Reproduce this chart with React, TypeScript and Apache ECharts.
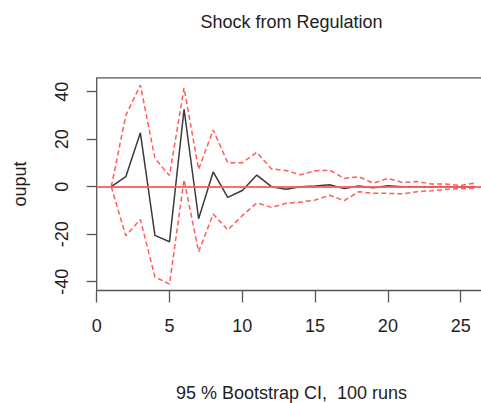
import React, { useEffect, useRef } from "react";
import * as echarts from "echarts";

// Impulse response horizon (steps after the shock)
const steps = [1, 2, 3, 4, 5, 6, 7, 8, 9, 10, 11, 12, 13, 14, 15, 16, 17, 18, 19, 20, 21, 22, 23, 24, 25, 26];

// Orthogonalised impulse response of output to a regulation shock
const irf = [0, 4.2, 22.7, -20.5, -23.2, 32.6, -13.5, 6.2, -4.5, -1.6, 4.9, 0, -1.1, 0, 0.3, 0.8, -0.8, 0.3, -0.4, 0.4, 0, 0, 0, 0, 0, 0];

// 95 % bootstrap confidence band
const upperCI = [0, 30, 42.8, 11.9, 4.7, 41.6, 7.3, 23.9, 10.1, 10.1, 14.5, 7.5, 6.8, 5.0, 6.7, 7.0, 3.5, 4.2, 1.5, 3.5, 1.8, 2.2, 1.1, 1.1, 0.5, 1.6];
const lowerCI = [0, -20.7, -13.8, -38, -41, 3.0, -27.4, -11.5, -18.2, -12.2, -6.8, -8.7, -7.0, -6.5, -5.6, -3.6, -5.9, -2.1, -2.8, -2.8, -3.0, -2.1, -1.7, -1.1, -0.8, -0.6];

const xTicks = [0, 5, 10, 15, 20, 25];
const yTicks = [-40, -20, 0, 20, 40];

const titleText = "Shock from Regulation";
const xTitle = "95 % Bootstrap CI,  100 runs";
const yTitle = "ouput";

const FONT = "'Liberation Sans', Arial, sans-serif";
const INK = "#1e1e1e";
const FRAME = "#555555";

export default function App() {
  const ref = useRef<HTMLDivElement>(null);

  useEffect(() => {
    if (!ref.current) return;
    const chart = echarts.init(ref.current, undefined, { renderer: "svg" });

    const pairs = (ys: number[]) => steps.map((s, i) => [s, ys[i]]);

    const plotLeft = 96.7;
    const plotTop = 77.8;
    const plotW = 393.1;
    const plotH = 212.7;

    chart.setOption({
      animation: false,
      backgroundColor: "#ffffff",
      grid: {
        left: plotLeft,
        top: plotTop,
        width: plotW,
        height: plotH,
        show: true,
        borderColor: FRAME,
        borderWidth: 1.3,
        backgroundColor: "transparent",
        containLabel: false,
        outerBoundsMode: "none",
      },
      xAxis: {
        type: "value",
        min: 0,
        max: 27,
        axisLine: { show: false, onZero: false },
        splitLine: { show: false },
        axisTick: {
          show: true,
          length: 12,
          customValues: xTicks,
          lineStyle: { color: FRAME, width: 1.3 },
        },
        axisLabel: {
          customValues: xTicks,
          margin: 26,
          fontFamily: FONT,
          fontSize: 18,
          color: INK,
        },
      },
      yAxis: {
        type: "value",
        min: -43.7,
        max: 45.85,
        axisLine: { show: false, onZero: false },
        splitLine: { show: false },
        axisTick: {
          show: true,
          length: 10,
          customValues: yTicks,
          lineStyle: { color: FRAME, width: 1.3 },
        },
        axisLabel: {
          customValues: yTicks,
          rotate: 90,
          margin: 26,
          fontFamily: FONT,
          fontSize: 18,
          color: INK,
        },
      },
      graphic: [
        {
          type: "text",
          x: 291.5,
          y: 22,
          style: {
            text: titleText,
            font: `18px ${FONT}`,
            fill: INK,
            align: "center",
            verticalAlign: "middle",
          },
        },
        {
          type: "text",
          x: 291.5,
          y: 392.5,
          style: {
            text: xTitle,
            font: `18px ${FONT}`,
            fill: INK,
            align: "center",
            verticalAlign: "middle",
          },
        },
        {
          type: "text",
          x: 20,
          y: 184,
          rotation: Math.PI / 2,
          style: {
            text: yTitle,
            font: `18px ${FONT}`,
            fill: INK,
            align: "center",
            verticalAlign: "middle",
          },
        },
      ],
      series: [
        {
          name: "upper",
          type: "line",
          data: pairs(upperCI),
          symbol: "none",
          z: 2,
          lineStyle: { color: "#ff4040", width: 1.5, type: [5, 3], opacity: 0.85 },
          markLine: {
            silent: true,
            symbol: "none",
            label: { show: false },
            lineStyle: { color: "#ff5a5a", width: 2, type: "solid", opacity: 0.9 },
            data: [{ yAxis: 0 }],
          },
        },
        {
          name: "lower",
          type: "line",
          data: pairs(lowerCI),
          symbol: "none",
          z: 2,
          lineStyle: { color: "#ff4040", width: 1.5, type: [5, 3], opacity: 0.85 },
        },
        {
          name: "irf",
          type: "line",
          data: pairs(irf),
          symbol: "none",
          z: 3,
          lineStyle: { color: "#3a3a3a", width: 1.5 },
        },
      ],
    });

    return () => chart.dispose();
  }, []);

  return (
    <div
      ref={ref}
      style={{ position: "absolute", left: 0, top: 0, width: 481, height: 403 }}
    />
  );
}
